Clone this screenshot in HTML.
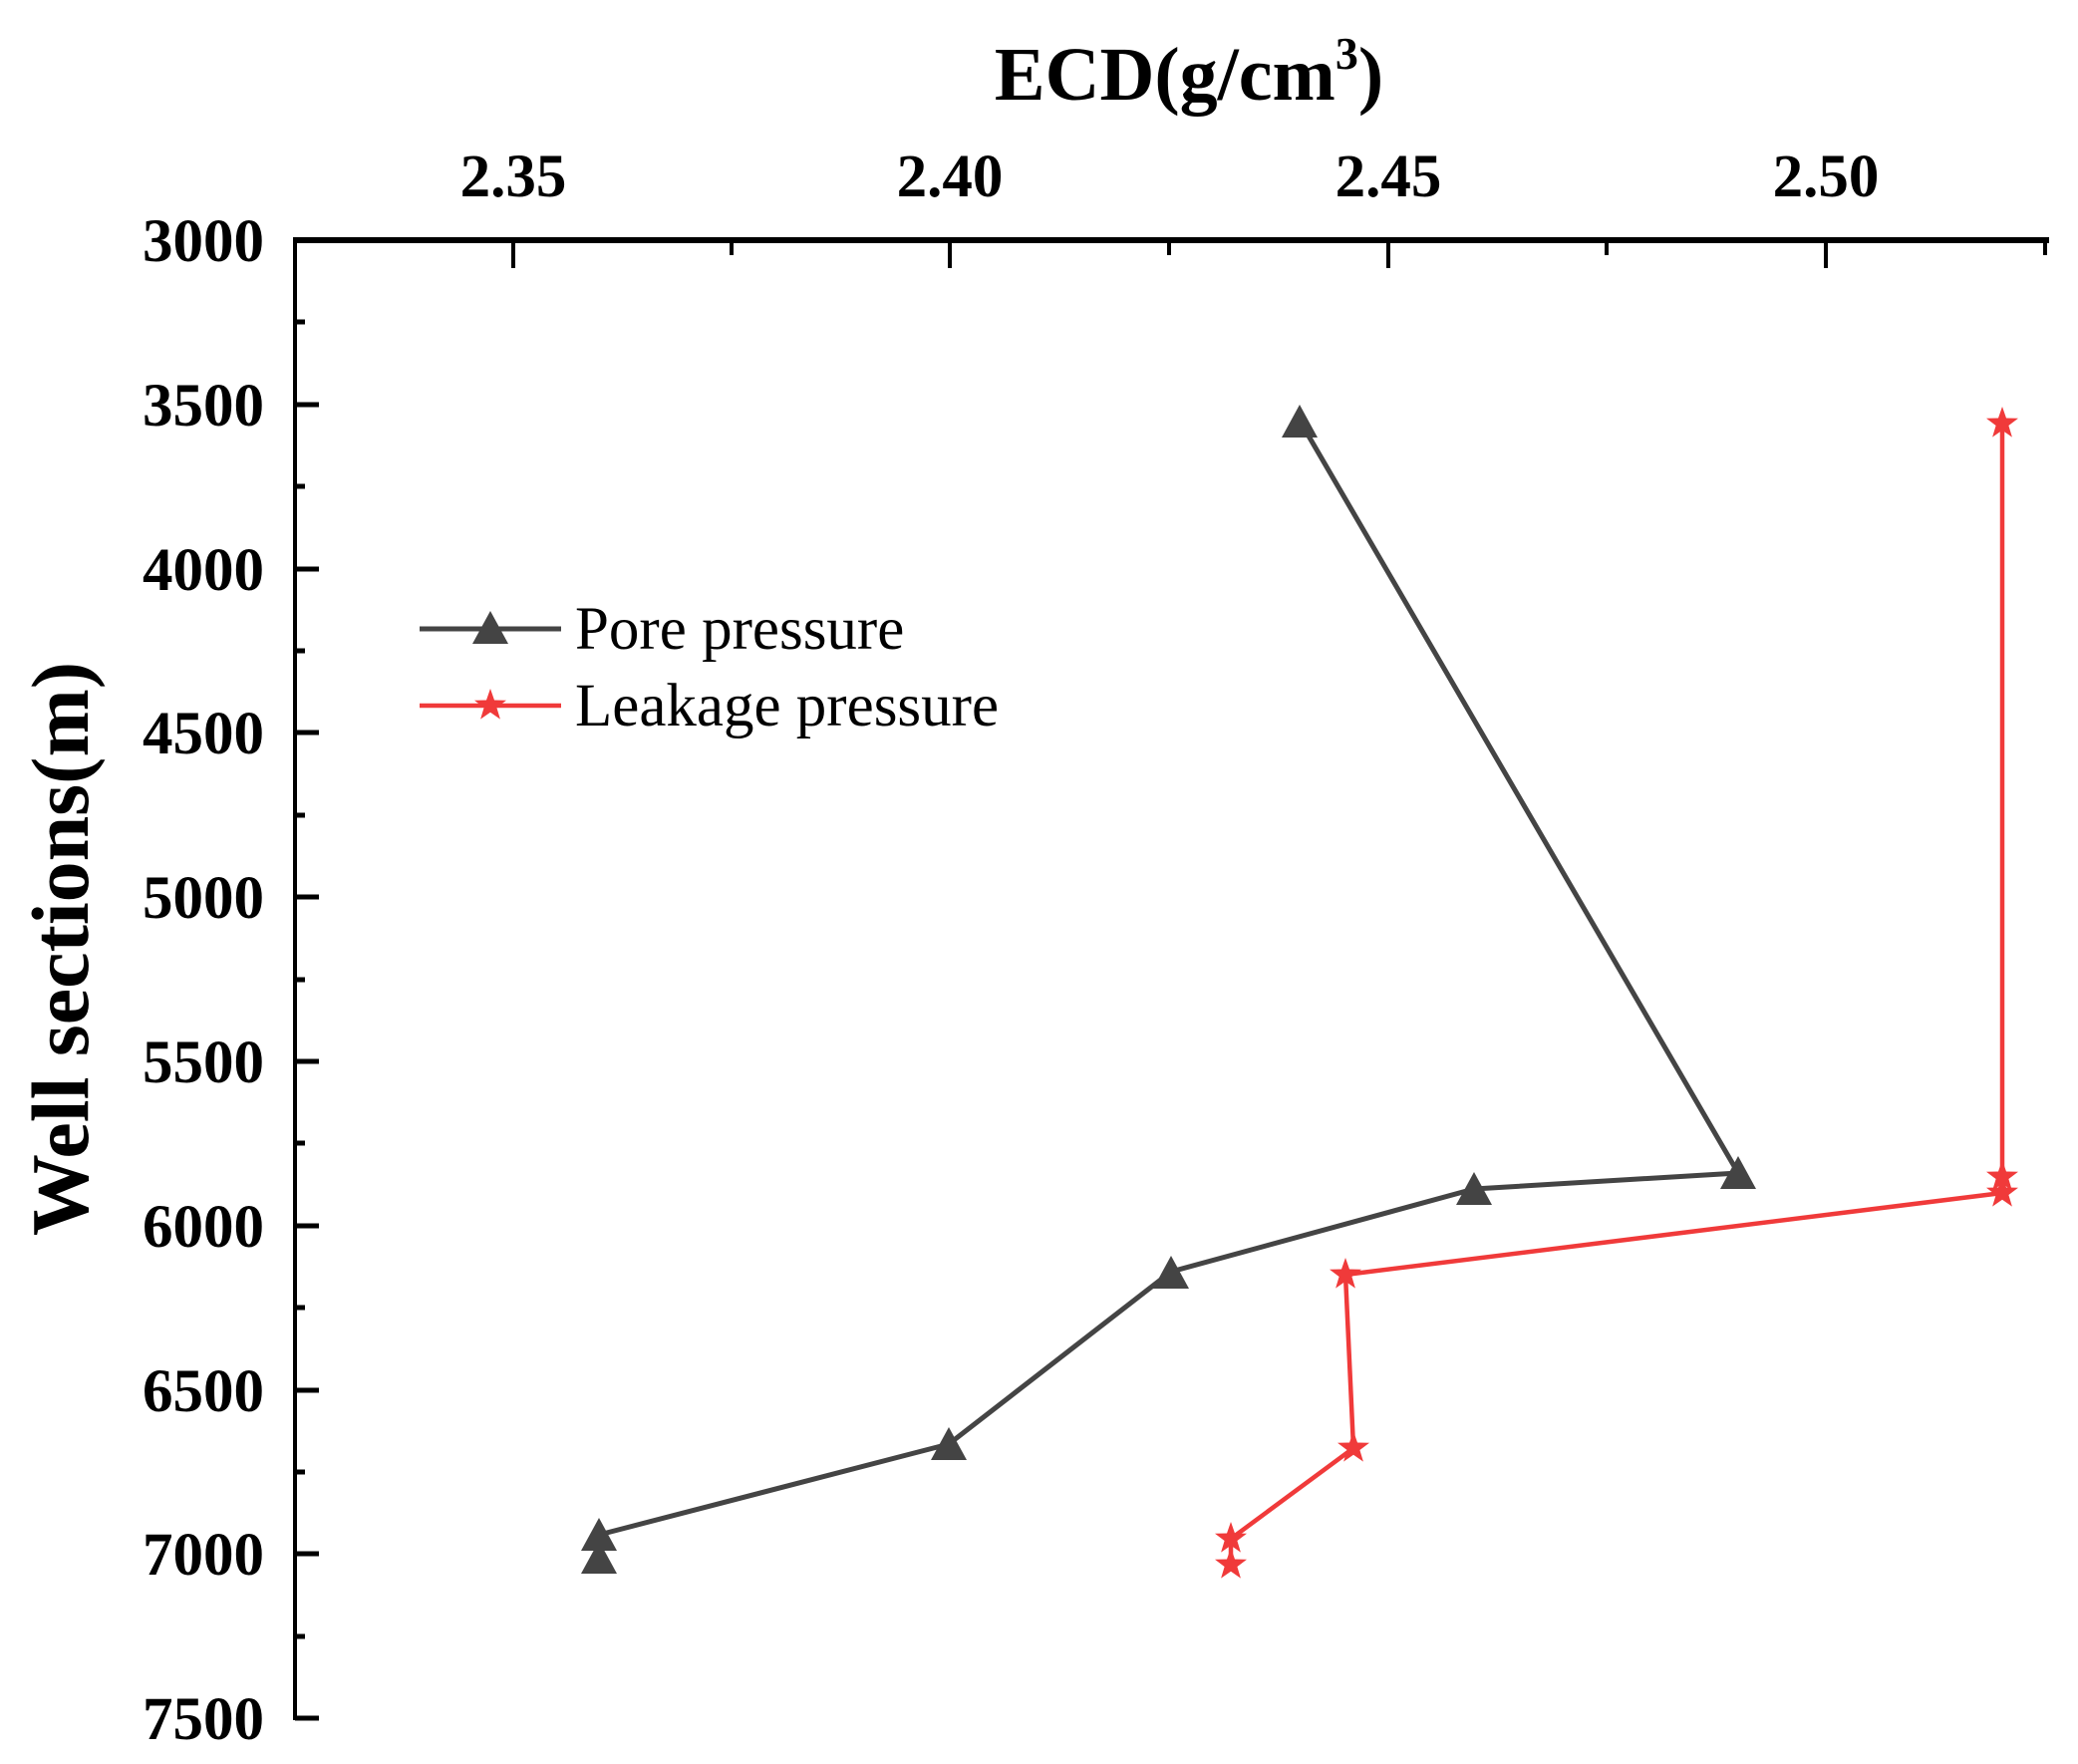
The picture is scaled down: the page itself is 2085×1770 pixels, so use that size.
<!DOCTYPE html>
<html><head><meta charset="utf-8"><style>
html,body{margin:0;padding:0;background:#fff;}
svg{display:block;}
text{font-family:"Liberation Serif",serif;}
</style></head><body>
<svg width="2085" height="1770" viewBox="0 0 2085 1770" xmlns="http://www.w3.org/2000/svg">
<defs>
<polygon id="tri" points="0,-20 18,13 -18,13" fill="#444"/>
<polygon id="star" points="0,-17 4,-5.5 16,-5.2 6.4,2 9.9,13.6 0,6.8 -9.9,13.6 -6.4,2 -16,-5.2 -4,-5.5" fill="#f03a3a"/>
</defs>
<text x="1193" y="100" font-size="76" font-weight="bold" text-anchor="middle">ECD(g/cm<tspan font-size="46" dy="-31">3</tspan><tspan dy="31">)</tspan></text>
<g font-size="61" font-weight="bold" text-anchor="middle">
<text x="515" y="197">2.35</text>
<text x="953" y="197">2.40</text>
<text x="1393" y="197">2.45</text>
<text x="1832" y="197">2.50</text>
</g>
<line x1="295" y1="241" x2="2056" y2="241" stroke="#000" stroke-width="6"/>
<line x1="296" y1="238" x2="296" y2="1726" stroke="#000" stroke-width="4"/>
<g stroke="#000" stroke-width="4">
<line x1="515" y1="241" x2="515" y2="269"/>
<line x1="953" y1="241" x2="953" y2="269"/>
<line x1="1393" y1="241" x2="1393" y2="269"/>
<line x1="1832" y1="241" x2="1832" y2="269"/>
<line x1="734" y1="241" x2="734" y2="256"/>
<line x1="1173" y1="241" x2="1173" y2="256"/>
<line x1="1612" y1="241" x2="1612" y2="256"/>
<line x1="2052" y1="241" x2="2052" y2="256"/>
</g>
<g stroke="#000" stroke-width="5">
<line x1="296" y1="406" x2="320" y2="406"/>
<line x1="296" y1="571" x2="320" y2="571"/>
<line x1="296" y1="735" x2="320" y2="735"/>
<line x1="296" y1="900" x2="320" y2="900"/>
<line x1="296" y1="1065" x2="320" y2="1065"/>
<line x1="296" y1="1230" x2="320" y2="1230"/>
<line x1="296" y1="1395" x2="320" y2="1395"/>
<line x1="296" y1="1559" x2="320" y2="1559"/>
<line x1="296" y1="1724" x2="320" y2="1724"/>
<line x1="296" y1="323" x2="306" y2="323"/>
<line x1="296" y1="488" x2="306" y2="488"/>
<line x1="296" y1="653" x2="306" y2="653"/>
<line x1="296" y1="818" x2="306" y2="818"/>
<line x1="296" y1="983" x2="306" y2="983"/>
<line x1="296" y1="1147" x2="306" y2="1147"/>
<line x1="296" y1="1312" x2="306" y2="1312"/>
<line x1="296" y1="1477" x2="306" y2="1477"/>
<line x1="296" y1="1642" x2="306" y2="1642"/>
</g>
<g font-size="61" font-weight="bold" text-anchor="end">
<text x="265" y="262">3000</text>
<text x="265" y="427">3500</text>
<text x="265" y="592">4000</text>
<text x="265" y="756">4500</text>
<text x="265" y="921">5000</text>
<text x="265" y="1086">5500</text>
<text x="265" y="1251">6000</text>
<text x="265" y="1416">6500</text>
<text x="265" y="1580">7000</text>
<text x="265" y="1745">7500</text>
</g>
<text transform="translate(88,952) rotate(-90)" font-size="82" font-weight="bold" text-anchor="middle">Well sections(m)</text>
<polyline fill="none" stroke="#444" stroke-width="5" points="1304,422 1744,1177 1479,1193 1175,1276 952,1449 601,1540 601,1563"/>
<g>
<use href="#tri" x="1304" y="426"/><use href="#tri" x="1744" y="1180"/><use href="#tri" x="1479" y="1196"/><use href="#tri" x="1175" y="1280"/><use href="#tri" x="952" y="1452"/><use href="#tri" x="601" y="1543"/><use href="#tri" x="601" y="1566"/>
</g>
<polyline fill="none" stroke="#f03a3a" stroke-width="4.5" points="2009,425 2009,1181 2009,1197 1350,1279 1358,1453 1235,1544 1235,1570"/>
<g>
<use href="#star" x="2009" y="425"/><use href="#star" x="2009" y="1181"/><use href="#star" x="2009" y="1197"/><use href="#star" x="1350" y="1279"/><use href="#star" x="1358" y="1453"/><use href="#star" x="1235" y="1544"/><use href="#star" x="1235" y="1570"/>
</g>
<line x1="421" y1="631" x2="563" y2="631" stroke="#444" stroke-width="5"/>
<use href="#tri" x="492" y="633"/>
<text x="577" y="651" font-size="61">Pore pressure</text>
<line x1="421" y1="708" x2="563" y2="708" stroke="#f03a3a" stroke-width="4.5"/>
<use href="#star" x="492" y="708"/>
<text x="577" y="728" font-size="61">Leakage pressure</text>
</svg>
</body></html>
